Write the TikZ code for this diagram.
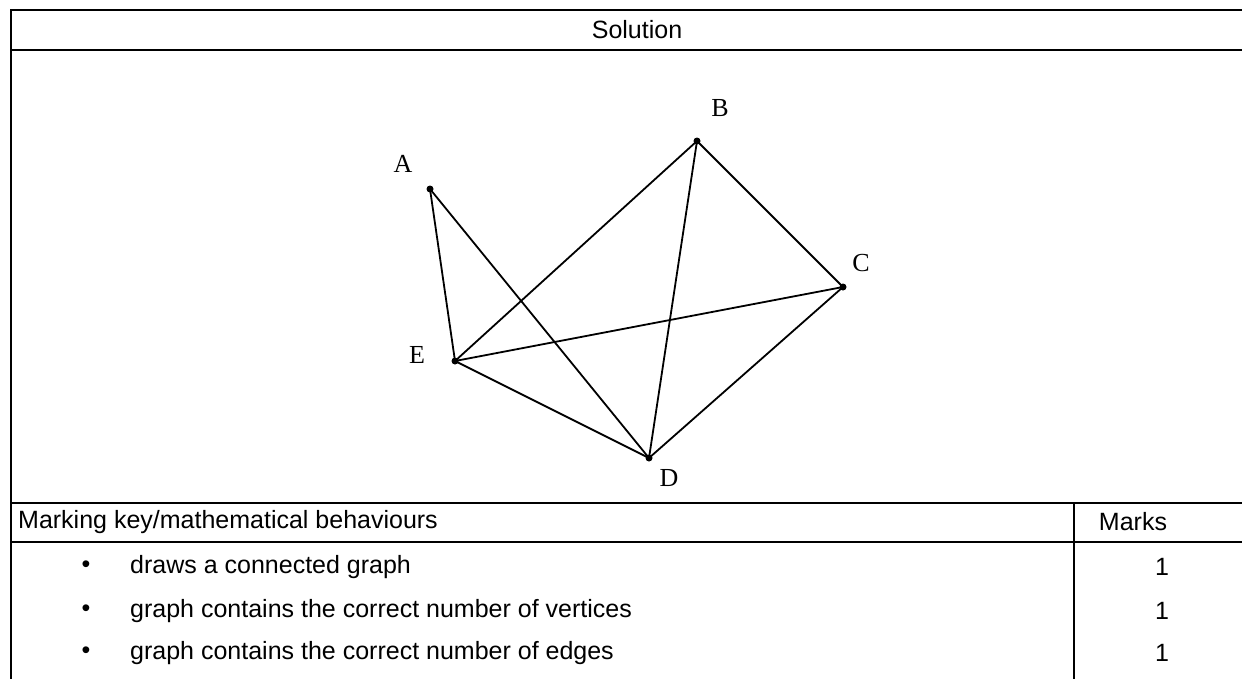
\documentclass[tikz,border=0pt]{standalone}
\usepackage{fontspec}
\setmainfont{Liberation Sans}
\newfontfamily\serifgraph{Liberation Serif}
\begin{document}
\begin{tikzpicture}[x=1pt,y=-1pt,
  rule/.style={line width=2.2pt},
  vrule/.style={line width=2pt},
  edge/.style={line width=1.8pt},
  vtx/.style={circle,fill=black,inner sep=0pt,minimum size=7pt},
  vlab/.style={font=\serifgraph\fontsize{26}{30}\selectfont,inner sep=0pt},
  cell/.style={font=\fontsize{25}{30}\selectfont,inner sep=0pt}]
\useasboundingbox (0,0) rectangle (1242,678);
\clip (0,0) rectangle (1242,678);
% table rules
\draw[rule] (10,10) -- (1250,10);
\draw[rule] (10,50) -- (1250,50);
\draw[rule] (10,503) -- (1250,503);
\draw[rule] (10,542) -- (1250,542);
\draw[vrule] (11,9) -- (11,690);
\draw[vrule] (1074,503) -- (1074,690);
% header
\node[cell] (sol) at (637,30) {Solution};
% graph
\node[vtx] (A) at (430,189) {};
\node[vtx] (B) at (697,141) {};
\node[vtx] (C) at (843,287) {};
\node[vtx] (E) at (455,361) {};
\node[vtx] (D) at (649,458) {};
\node[vlab] (lA) at (403,164) {A};
\node[vlab] (lB) at (720,108) {B};
\node[vlab] (lC) at (861,263) {C};
\node[vlab] (lE) at (417,355) {E};
\node[vlab] (lD) at (669,478) {D};
\draw[edge] (A.center) -- (E.center);
\draw[edge] (A.center) -- (D.center);
\draw[edge] (B.center) -- (E.center);
\draw[edge] (B.center) -- (D.center);
\draw[edge] (B.center) -- (C.center);
\draw[edge] (C.center) -- (E.center);
\draw[edge] (C.center) -- (D.center);
\draw[edge] (E.center) -- (D.center);
% marking key
\node[cell,anchor=west] (mk) at (18,522) {Marking key/mathematical behaviours};
\node[cell] (mh) at (1133,522) {Marks};
\node[cell] (b1) at (86,567) {\textbullet};
\node[cell] (b2) at (86,611) {\textbullet};
\node[cell] (b3) at (86,653) {\textbullet};
\node[cell,anchor=west] (t1) at (130,567) {draws a connected graph};
\node[cell,anchor=west] (t2) at (130,611) {graph contains the correct number of vertices};
\node[cell,anchor=west] (t3) at (130,653) {graph contains the correct number of edges};
\node[cell] (m1) at (1162,567) {1};
\node[cell] (m2) at (1162,611) {1};
\node[cell] (m3) at (1162,653) {1};
\end{tikzpicture}
\end{document}
